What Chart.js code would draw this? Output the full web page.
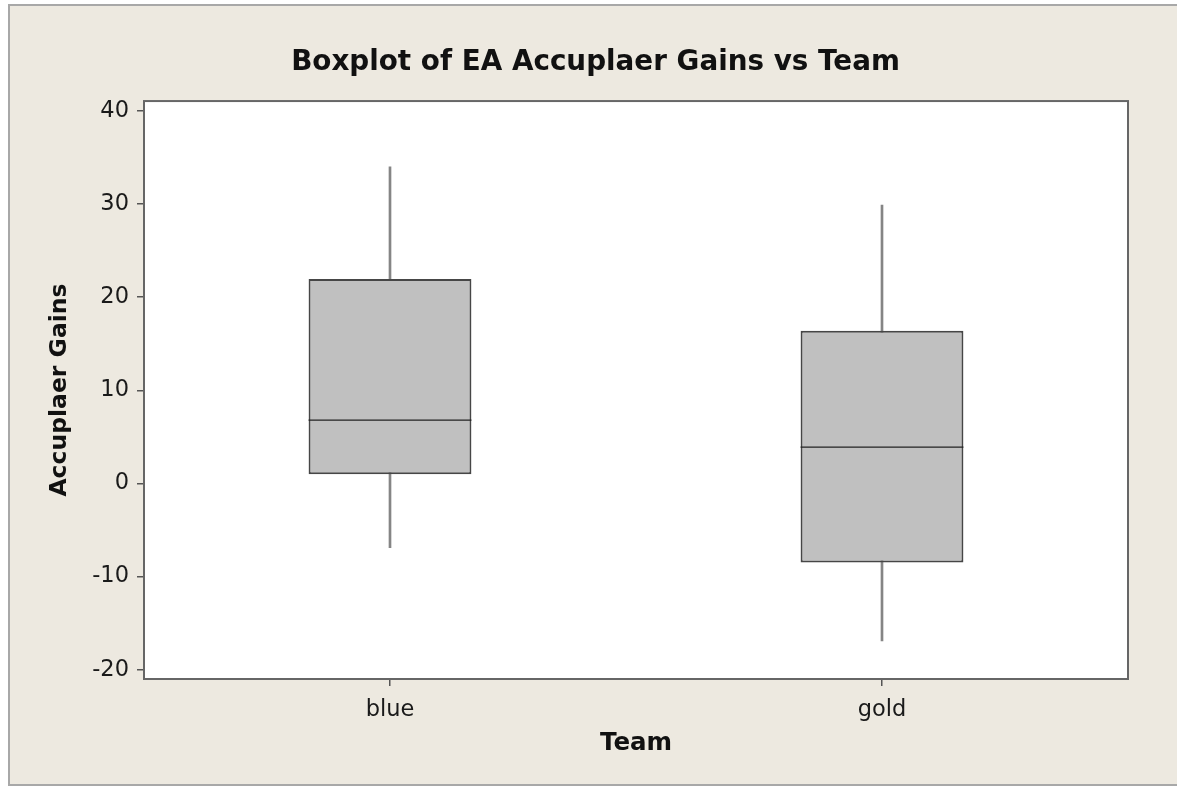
<!DOCTYPE html>
<html>
<head>
<meta charset="utf-8">
<script src="https://cdn.jsdelivr.net/npm/chart.js@4.4.1/dist/chart.umd.min.js"></script>
<style>
html,body{margin:0;padding:0;background:#fff;}
#wrap{width:1177px;height:793px;}
</style>
</head>
<body>
<div id="wrap"><canvas id="c" width="1177" height="793"></canvas></div>
<script>
// ---- data ----
const teams = ['blue', 'gold'];
const whiskerLow = [-6.9, -16.9];
const q1 = [1.0, -8.5];
const median = [6.8, 3.9];
const q3 = [21.95, 16.4];
const whiskerHigh = [34.0, 29.9];
const yTickValues = [-20, -10, 0, 10, 20, 30, 40];
const yMin = -21.0, yMax = 41.07;

const FONT = '"DejaVu Sans", Verdana, sans-serif';
const BEIGE = '#EDE9E0';

const framePlugin = {
  id: 'frame',
  beforeDraw(chart) {
    const ctx = chart.ctx;
    ctx.save();
    ctx.fillStyle = '#ffffff';
    ctx.fillRect(0, 0, chart.width, chart.height);
    ctx.fillStyle = BEIGE;
    ctx.fillRect(9, 5, chart.width - 9, 780);
    ctx.strokeStyle = '#a8a8a8';
    ctx.lineWidth = 2;
    ctx.strokeRect(9, 5, chart.width + 10, 780);
    const a = chart.chartArea;
    ctx.fillStyle = '#ffffff';
    ctx.fillRect(a.left, a.top, a.right - a.left, a.bottom - a.top);
    ctx.restore();
  },
  afterDraw(chart) {
    const ctx = chart.ctx, a = chart.chartArea;
    ctx.save();
    ctx.strokeStyle = '#666666';
    ctx.lineWidth = 2;
    ctx.strokeRect(a.left, a.top, a.right - a.left, a.bottom - a.top);
    ctx.restore();
  }
};

const pairs = (lo, hi) => lo.map((v, i) => [v, hi[i]]);

new Chart(document.getElementById('c'), {
  type: 'bar',
  data: {
    labels: teams,
    datasets: [
      {
        label: 'whisker',
        data: pairs(whiskerLow, whiskerHigh),
        backgroundColor: '#858585',
        borderWidth: 0,
        barThickness: 2,
        order: 3
      },
      {
        label: 'box',
        data: pairs(q1, q3),
        backgroundColor: '#C0C0C0',
        borderColor: '#464646',
        borderWidth: 2,
        borderSkipped: false,
        barPercentage: 0.331,
        categoryPercentage: 1,
        order: 2
      },
      {
        label: 'median',
        data: median.map(m => [m - 0.07, m + 0.07]),
        backgroundColor: '#222222',
        borderWidth: 0,
        barPercentage: 0.331,
        categoryPercentage: 1,
        order: 1
      }
    ]
  },
  options: {
    responsive: false,
    animation: false,
    devicePixelRatio: 1,
    datasets: { bar: { grouped: false } },
    layout: { padding: { left: 63, right: 49, top: 0, bottom: 0 } },
    plugins: {
      legend: { display: false },
      tooltip: { enabled: false },
      title: {
        display: true,
        text: 'Boxplot of EA Accuplaer Gains vs Team',
        color: '#111',
        font: { family: FONT, size: 27.8, weight: 'bold' },
        padding: { top: 46.5, bottom: 21.2 }
      }
    },
    scales: {
      x: {
        type: 'category',
        offset: true,
        afterFit(s) { s.height = 114; },
        grid: { drawOnChartArea: false, drawTicks: true, tickLength: 7, color: '#555', lineWidth: 1.5, offset: false },
        border: { display: false },
        ticks: { color: '#1a1a1a', font: { family: FONT, size: 22.5 }, padding: 11 },
        title: {
          display: true, text: 'Team', color: '#111',
          font: { family: FONT, size: 24.5, weight: 'bold' },
          padding: { top: 0, bottom: 34.3 }
        }
      },
      y: {
        type: 'linear',
        min: yMin, max: yMax,
        afterFit(s) { s.width = 81; },
        afterBuildTicks(s) { s.ticks = yTickValues.map(v => ({ value: v })); },
        grid: { drawOnChartArea: false, drawTicks: true, tickLength: 7, color: '#555', lineWidth: 1.5 },
        border: { display: false },
        ticks: { color: '#1a1a1a', font: { family: FONT, size: 22.5 }, padding: 8 },
        title: {
          display: true, text: 'Accuplaer Gains', color: '#111',
          font: { family: FONT, size: 23.5, weight: 'bold' },
          padding: { top: -17.1, bottom: 0 }
        }
      }
    }
  },
  plugins: [framePlugin]
});
</script>
</body>
</html>
